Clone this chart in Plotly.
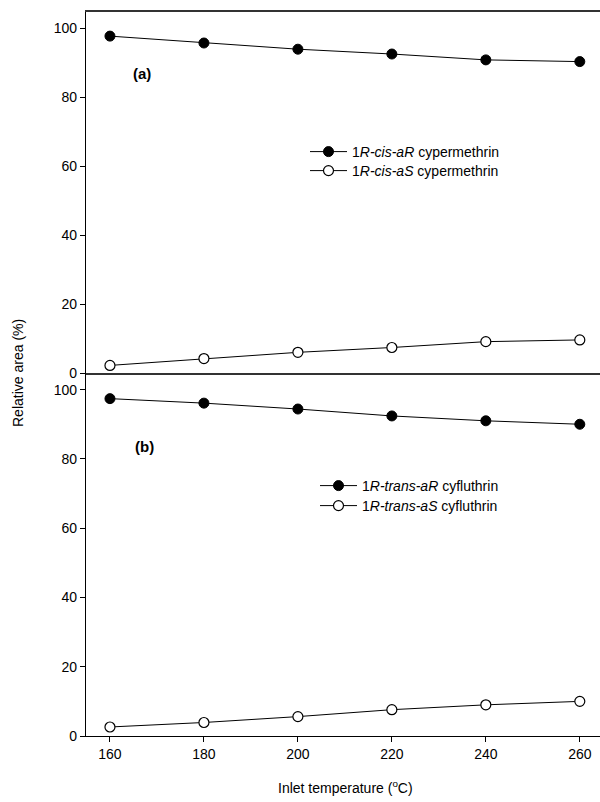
import plotly.graph_objects as go
from plotly.subplots import make_subplots

temps = [160, 180, 200, 220, 240, 260]
cis_aR = [97.8, 95.8, 94.0, 92.6, 90.9, 90.4]
cis_aS = [2.2, 4.2, 6.0, 7.4, 9.1, 9.6]
trans_aR = [97.4, 96.1, 94.4, 92.4, 91.0, 90.0]
trans_aS = [2.6, 3.9, 5.6, 7.6, 9.0, 10.0]

names_a = ["1<i>R-cis-aR</i> cypermethrin", "1<i>R-cis-aS</i> cypermethrin"]
names_b = ["1<i>R-trans-aR</i> cyfluthrin", "1<i>R-trans-aS</i> cyfluthrin"]
y_ticks = [0, 20, 40, 60, 80, 100]
x_ticks = [160, 180, 200, 220, 240, 260]

FONT = "Liberation Sans, Arial, sans-serif"
H_PLOT = 724  # plot area height in px (12..736)
W_PLOT = 514  # plot area width in px (86..600)


def px_x(px):
    return (px - 86) / W_PLOT


def px_y(py):
    return (736 - py) / H_PLOT


fig = make_subplots(rows=2, cols=1, shared_xaxes=False, vertical_spacing=0)

filled = dict(color="black", size=10, line=dict(color="black", width=1))
hollow = dict(color="white", size=10, line=dict(color="black", width=1.2))
ln = dict(color="black", width=1)

fig.add_trace(go.Scatter(x=temps, y=cis_aR, mode="lines+markers", name=names_a[0],
                         marker=filled, line=ln, legend="legend", showlegend=True), row=1, col=1)
fig.add_trace(go.Scatter(x=temps, y=cis_aS, mode="lines+markers", name=names_a[1],
                         marker=hollow, line=ln, legend="legend2", showlegend=True), row=1, col=1)
fig.add_trace(go.Scatter(x=temps, y=trans_aR, mode="lines+markers", name=names_b[0],
                         marker=filled, line=ln, legend="legend3", showlegend=True), row=2, col=1)
fig.add_trace(go.Scatter(x=temps, y=trans_aS, mode="lines+markers", name=names_b[1],
                         marker=hollow, line=ln, legend="legend4", showlegend=True), row=2, col=1)

split = px_y(373)

xr = [154.9, 264.3]
common_x = dict(range=xr, showgrid=False, zeroline=False, tickvals=x_ticks,
                tickfont=dict(family=FONT, size=14, color="black"))
fig.update_xaxes(common_x)
fig.update_xaxes(row=1, col=1, showline=True, linecolor="#333333", linewidth=1.5, mirror=True,
                 showticklabels=False, ticks="")
fig.update_xaxes(row=2, col=1, showline=True, linecolor="black", linewidth=1.2,
                 ticks="outside", ticklen=5, tickcolor="black", tickwidth=1)
fig.update_yaxes(range=[0, 104.8], showgrid=False, zeroline=False, tickvals=y_ticks,
                 showline=True, linecolor="black", linewidth=1.2,
                 ticks="outside", ticklen=5, tickcolor="black", tickwidth=1,
                 tickfont=dict(family=FONT, size=14, color="black"))
fig.update_layout(yaxis=dict(domain=[split, 1]), yaxis2=dict(domain=[0, split]))


def leg(marker_x, row_y):
    return dict(x=px_x(marker_x - 25), y=px_y(row_y), xanchor="left", yanchor="middle",
                bgcolor="rgba(0,0,0,0)", font=dict(family=FONT, size=14, color="black"),
                itemwidth=37)


fig.update_layout(
    width=600, height=802,
    showlegend=True,
    margin=dict(l=86, r=0, t=12, b=66),
    paper_bgcolor="white", plot_bgcolor="white",
    font=dict(family=FONT, size=14, color="black"),
    legend=leg(330, 152),
    legend2=leg(330, 171),
    legend3=leg(340, 486),
    legend4=leg(340, 506),
    annotations=[
        dict(text="<b>(a)</b>", x=166.8, y=87, xref="x", yref="y", showarrow=False,
             font=dict(family=FONT, size=15)),
        dict(text="<b>(b)</b>", x=167.4, y=83.5, xref="x2", yref="y2", showarrow=False,
             font=dict(family=FONT, size=15)),
        dict(text="Relative area (%)", textangle=-90, x=px_x(18), y=split,
             xanchor="center", yanchor="middle",
             xref="paper", yref="paper", showarrow=False, font=dict(family=FONT, size=14)),
        dict(text="Inlet temperature (<sup>o</sup>C)", x=px_x(345), y=px_y(787),
             xanchor="center", yanchor="middle",
             xref="paper", yref="paper", showarrow=False, font=dict(family=FONT, size=14)),
    ],
)

fig.write_html("out.html", config={"displayModeBar": False},
               post_script="document.body.style.margin='0px';")
